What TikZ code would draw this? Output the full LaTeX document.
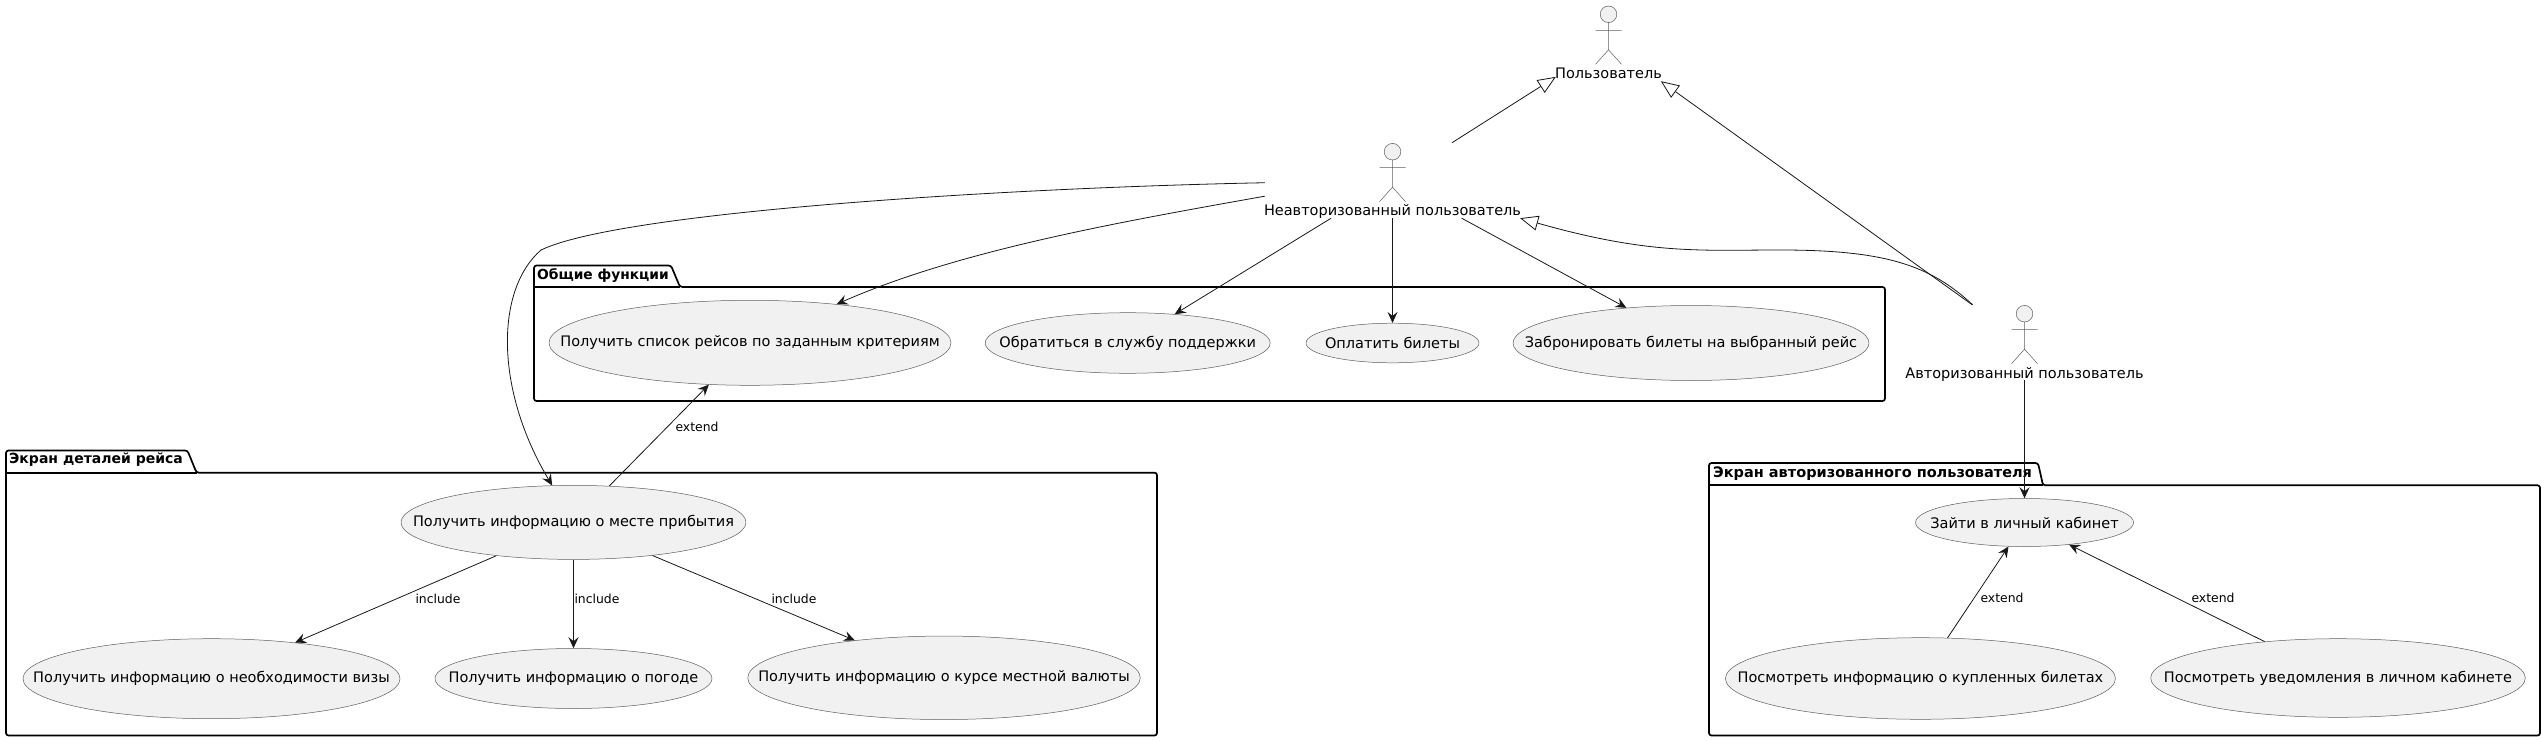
\documentclass[tikz,border=0pt]{standalone}
\usepackage{fontspec}
\setmainfont{DejaVu Sans}
\usepackage{xcolor}
\usetikzlibrary{arrows.meta, positioning, shapes.geometric}

\definecolor{caseFill}{HTML}{F1F1F1}
\definecolor{umlLine}{HTML}{181818}

% the ellipse size is given by hand, so the text must not widen it
\newcommand{\casetext}[1]{\makebox[0pt]{#1}}

\tikzset{
  usecase/.style={ellipse, draw=umlLine!70, line width=0.5pt, fill=caseFill, inner sep=0pt, font=\fontsize{14.5}{16}\selectfont},
  actorbox/.style={rectangle, inner sep=0pt},
  actortext/.style={inner sep=0pt, font=\fontsize{14.5}{16}\selectfont},
  pkgbox/.style={draw=black, line width=1.7pt, rounded corners=2.5pt},
  pkgtitle/.style={anchor=west, inner sep=0pt, font=\fontsize{14.5}{16}\selectfont\bfseries},
  edgetext/.style={inner sep=0pt, font=\fontsize{12.4}{14}\selectfont},
  assoc/.style={draw=umlLine, line width=0.8pt, -{Stealth[length=11pt, width=10pt, inset=4pt]}},
  general/.style={draw=umlLine, line width=0.8pt, -{Triangle[open, length=18pt, width=15pt, fill=white]}},
  stickman/.pic={
    \draw[umlLine!70, line width=0.5pt, fill=caseFill] (0,0) circle (8.3pt);
    \draw[umlLine!70, line width=0.5pt] (0,8.3) -- (0,35.5) (-13,16) -- (13,16) (-13,50) -- (0,35.5) -- (13,50);
  }
}

\begin{document}
\begin{tikzpicture}[x=1pt, y=-1pt]
  \useasboundingbox (0,0) rectangle (2542,741);

  % packages
  \draw[pkgbox] (534,287) -- (534,265.5) -- (671,265.5) -- (680,287) -- (1885,287) -- (1885,401) -- (534,401) -- cycle;
  \draw[pkgbox] (534,287) -- (680,287);
  \node[pkgtitle, font=\fontsize{13.8}{16}\selectfont\bfseries] (commontitle) at (537,275.5) {Общие функции};

  \draw[pkgbox] (6,472.7) -- (6,450.5) -- (187.5,450.5) -- (196.5,472.7) -- (1157,472.7) -- (1157,735.5) -- (6,735.5) -- cycle;
  \draw[pkgbox] (6,472.7) -- (196.5,472.7);
  \node[pkgtitle, font=\fontsize{14}{16}\selectfont\bfseries] (detailtitle) at (9,460) {Экран деталей рейса};

  \draw[pkgbox] (1709,485.3) -- (1709,463) -- (2038,463) -- (2043,485.3) -- (2540,485.3) -- (2540,735.5) -- (1709,735.5) -- cycle;
  \draw[pkgbox] (1709,485.3) -- (2043,485.3);
  \node[pkgtitle] (cabinettitle) at (1713,473.3) {Экран авторизованного пользователя};

  % actors
  \node[actorbox, minimum width=105, minimum height=75] (user) at (1608.5,43.5) {};
  \node[actorbox, minimum width=255, minimum height=75] (neauth) at (1392.5,180.5) {};
  \node[actorbox, minimum width=239, minimum height=75] (auth) at (2024.5,342.5) {};
  \pic at (1608.5,14.3) {stickman};
  \pic at (1392.5,151.7) {stickman};
  \pic at (2024.5,313.7) {stickman};
  \node[actortext] (userlabel) at (1608.5,73) {Пользователь};
  \node[actortext] (neauthlabel) at (1392.5,211.5) {Неавторизованный пользователь};
  \node[actortext] (authlabel) at (2024.5,374) {Авторизованный пользователь};

  % use cases
  \node[usecase, minimum width=402, minimum height=85] (flights) at (750,342.8) {\casetext{Получить список рейсов по заданным критериям}};
  \node[usecase, minimum width=285, minimum height=60.6] (support) at (1127.7,343) {\casetext{Обратиться в службу поддержки}};
  \node[usecase, minimum width=173, minimum height=39.6] (pay) at (1392.5,343) {\casetext{Оплатить билеты}};
  \node[usecase, minimum width=356, minimum height=75] (book) at (1691,343) {\casetext{Забронировать билеты на выбранный рейс}};
  \node[usecase, minimum width=345, minimum height=74] (arrival) at (573.5,522.4) {\casetext{Получить информацию о месте прибытия}};
  \node[usecase, minimum width=377, minimum height=80] (visa) at (211.5,678.7) {\casetext{Получить информацию о необходимости визы}};
  \node[usecase, minimum width=277, minimum height=60] (weather) at (573.5,678.5) {\casetext{Получить информацию о погоде}};
  \node[usecase, minimum width=392.5, minimum height=83.5] (currency) at (944,677.8) {\casetext{Получить информацию о курсе местной валюты}};
  \node[usecase, minimum width=218, minimum height=48] (cabinet) at (2024.5,522.5) {\casetext{Зайти в личный кабинет}};
  \node[usecase, minimum width=390, minimum height=81.6] (bought) at (1920.4,678.5) {\casetext{Посмотреть информацию о купленных билетах}};
  \node[usecase, minimum width=374.6, minimum height=78.6] (notices) at (2338,678) {\casetext{Посмотреть уведомления в личном кабинете}};

  % actor links
  \draw[general] (neauth) -- (user);
  \draw[general] (auth) -- (user);
  \draw[general] (auth.144.5) .. controls (1930,265) and (1885,250) .. (1780,250)
    .. controls (1700,250) and (1650,255) .. (neauth.south east);
  \draw[assoc] (neauth.181.3) .. controls (1000,188) and (620,212) .. (541,250)
    .. controls (495,290) and (495,390) .. (arrival.120.8);
  \draw[assoc] (neauth.187.6) .. controls (1120,222) and (960,250) .. (flights.24.3);
  \draw[assoc] (neauth) -- (support);
  \draw[assoc] (neauth) -- (pay);
  \draw[assoc] (neauth) -- (book);
  \draw[assoc] (auth) -- (cabinet);

  % include / extend
  \draw[assoc] (arrival) -- (flights);
  \draw[assoc] (arrival) -- (visa);
  \draw[assoc] (arrival) -- (weather);
  \draw[assoc] (arrival) -- (currency);
  \draw[assoc] (bought) -- (cabinet);
  \draw[assoc] (notices) -- (cabinet);
  \node[edgetext] (extendflights) at (697,427) {extend};
  \node[edgetext] (includevisa) at (438,598.6) {include};
  \node[edgetext] (includeweather) at (597,598.6) {include};
  \node[edgetext] (includecurrency) at (794,598.6) {include};
  \node[edgetext] (extendbought) at (2002,598.3) {extend};
  \node[edgetext] (extendnotices) at (2213,598.3) {extend};
\end{tikzpicture}
\end{document}
